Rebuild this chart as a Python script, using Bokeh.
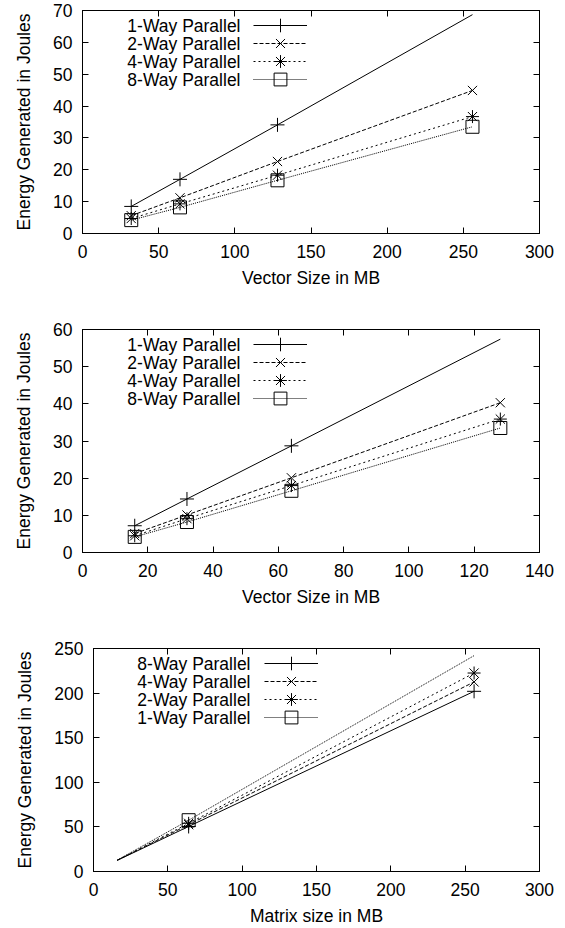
from bokeh.plotting import figure
from bokeh.models import LinearAxis, Legend, LegendItem, Label, FixedTicker
from bokeh.layouts import column, row
from bokeh.embed import file_html
from bokeh.resources import INLINE

FONT = "Liberation Sans"
FS = "17.5px"

# ---------------- data ----------------
# Panel 1: vector sizes 32..256 MB
p1_x = [32, 64, 128, 256]
p1_names = ["1-Way Parallel", "2-Way Parallel", "4-Way Parallel", "8-Way Parallel"]
p1_way1 = [8.5, 17.0, 34.1, 68.7]
p1_way2 = [5.6, 11.2, 22.6, 44.9]
p1_way4 = [4.7, 9.3, 18.3, 36.7]
p1_way8 = [4.2, 8.2, 16.7, 33.5]
p1_xticks = [0, 50, 100, 150, 200, 250, 300]
p1_yticks = [0, 10, 20, 30, 40, 50, 60, 70]

# Panel 2: vector sizes 16..128 MB
p2_x = [16, 32, 64, 128]
p2_names = ["1-Way Parallel", "2-Way Parallel", "4-Way Parallel", "8-Way Parallel"]
p2_way1 = [7.2, 14.4, 28.7, 57.4]
p2_way2 = [5.1, 10.1, 20.1, 40.3]
p2_way4 = [4.5, 9.1, 18.0, 35.9]
p2_way8 = [4.2, 8.2, 16.6, 33.5]
p2_xticks = [0, 20, 40, 60, 80, 100, 120, 140]
p2_yticks = [0, 10, 20, 30, 40, 50, 60]

# Panel 3: matrix sizes
p3_x = [16, 64, 256]
p3_names = ["8-Way Parallel", "4-Way Parallel", "2-Way Parallel", "1-Way Parallel"]
p3_way8 = [12.5, 50.5, 202.0]
p3_way4 = [12.6, 52.5, 212.5]
p3_way2 = [12.7, 54.0, 222.5]
p3_way1 = [12.8, 57.5, 242.0]
p3_xticks = [0, 50, 100, 150, 200, 250, 300]
p3_yticks = [0, 50, 100, 150, 200, 250]

# ---------------- styles ----------------
DASHES = ["solid", "4 2", "2 3", "1 1"]
MARKERS = ["cross", "x", "asterisk", "square"]
MSIZE = [14, 13, 13, 13]
LEG_BOX = [34, 32, 32, 32]   # legend glyph box -> marker size = 0.4 * box
FRAME_H = 223
TOP = 10
ROW = 18


def style_axis(ax, ticks, show_labels=True):
    ax.ticker = FixedTicker(ticks=ticks)
    ax.major_tick_in = 6
    ax.major_tick_out = 0
    ax.major_tick_line_color = "black"
    ax.minor_tick_line_color = None
    ax.axis_line_color = "black"
    if show_labels:
        ax.major_label_text_font = FONT
        ax.major_label_text_font_size = FS
        ax.major_label_text_color = "black"
    else:
        ax.major_label_text_font_size = "0px"
        ax.major_label_text_color = None
        ax.major_label_standoff = 0


def make_panel(xs, ys_list, names, xmax, xticks, ymax, yticks, xlabel,
               left, fw, bottom, mark_start, one_way_index, text_right):
    p = figure(frame_width=fw, frame_height=FRAME_H,
               x_range=(0, xmax), y_range=(0, ymax),
               output_backend="svg", toolbar_location=None,
               min_border_left=left, min_border_right=565 - left - fw,
               min_border_top=TOP, min_border_bottom=bottom,
               x_axis_label=xlabel, y_axis_label="Energy Generated in Joules")
    p.xgrid.visible = False
    p.ygrid.visible = False
    p.outline_line_color = "black"
    p.outline_line_alpha = 1.0
    p.background_fill_color = "white"
    p.border_fill_color = "white"

    style_axis(p.xaxis[0], xticks)
    style_axis(p.yaxis[0], yticks)
    p.xaxis.major_label_standoff = 11
    p.yaxis.major_label_standoff = 10
    for ax in (p.xaxis[0], p.yaxis[0]):
        ax.axis_label_text_font = FONT
        ax.axis_label_text_font_size = FS
        ax.axis_label_text_font_style = "normal"
        ax.axis_label_text_color = "black"
    p.xaxis.axis_label_standoff = 7
    p.yaxis.axis_label_standoff = 16

    top = LinearAxis()
    style_axis(top, xticks, show_labels=False)
    p.add_layout(top, "above")
    right = LinearAxis()
    style_axis(right, yticks, show_labels=False)
    p.add_layout(right, "right")

    for i, (ys, name) in enumerate(zip(ys_list, names)):
        lr = p.line(xs, ys, line_color="black", line_width=1,
                    line_dash=DASHES[i])
        end = len(xs) - 1 if i == one_way_index else len(xs)
        sr = p.scatter(xs[mark_start:end], ys[mark_start:end],
                       marker=MARKERS[i], size=MSIZE[i],
                       line_color="black", fill_color=None, line_width=1)
        p.add_layout(Label(x=text_right, y=FRAME_H - 15 - ROW * i,
                           x_units="screen", y_units="screen",
                           text=name, text_align="right",
                           text_baseline="middle", text_font=FONT,
                           text_font_size=FS, text_color="black"))
        box = LEG_BOX[i]
        row_center = FRAME_H - 15 - ROW * i
        leg = Legend(items=[LegendItem(label=" ", renderers=[lr, sr])],
                     location=(171, row_center - box / 2),
                     glyph_width=54, glyph_height=box, label_width=0,
                     label_height=box, label_standoff=0,
                     label_text_font_size="0px", label_text_color=None,
                     padding=0, spacing=0, margin=0,
                     border_line_color=None, background_fill_alpha=0)
        p.add_layout(leg, "center")
    return p


p1 = make_panel(p1_x, [p1_way1, p1_way2, p1_way4, p1_way8], p1_names,
                300, p1_xticks, 70, p1_yticks, "Vector Size in MB",
                82, 457, 319 - TOP - FRAME_H, 0, 0, 158)
p2 = make_panel(p2_x, [p2_way1, p2_way2, p2_way4, p2_way8], p2_names,
                140, p2_xticks, 60, p2_yticks, "Vector Size in MB",
                82, 457, 319 - TOP - FRAME_H, 0, 0, 158)
p3 = make_panel(p3_x, [p3_way8, p3_way4, p3_way2, p3_way1], p3_names,
                300, p3_xticks, 250, p3_yticks, "Matrix size in MB",
                93, 446, 290 - TOP - FRAME_H, 1, 3, 157)

layout = column(row(p1), row(p2), row(p3), spacing=0)
open("out.html", "w").write(file_html(layout, INLINE))
